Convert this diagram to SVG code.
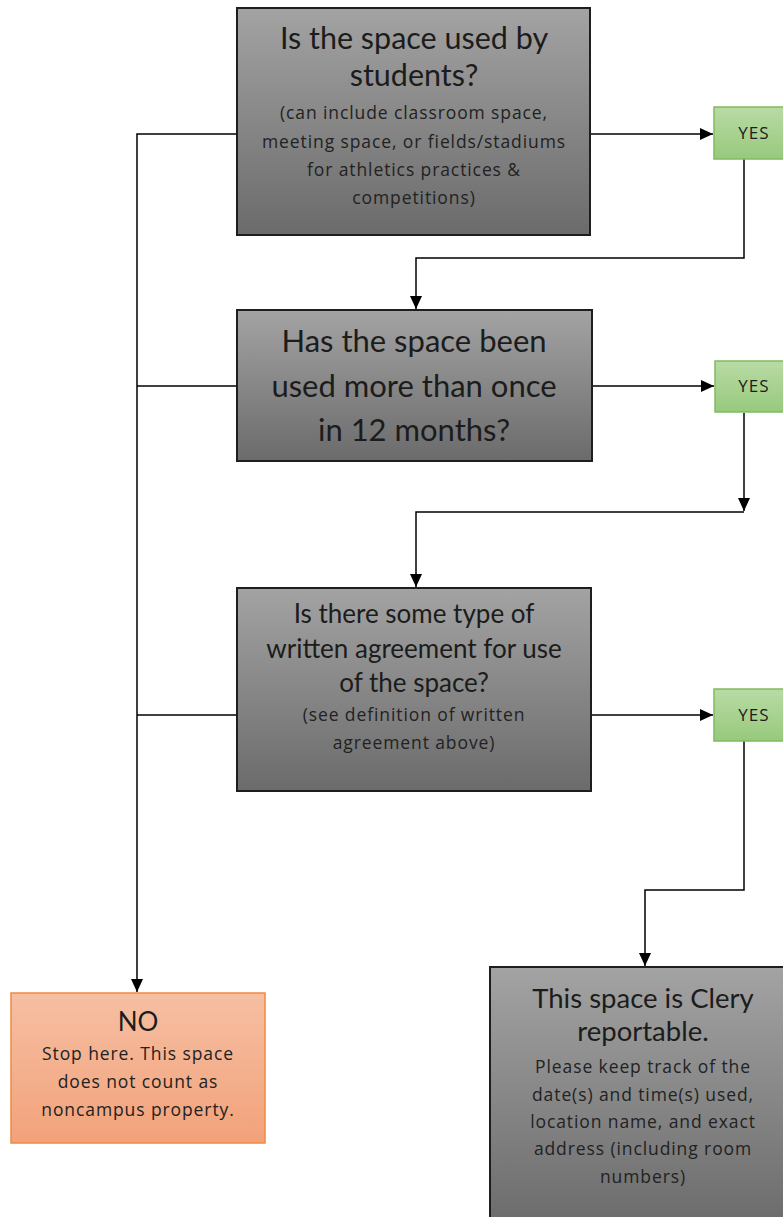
<svg xmlns="http://www.w3.org/2000/svg" width="783" height="1217" viewBox="0 0 783 1217">
<defs>
<linearGradient id="gGray" x1="0" y1="0" x2="0" y2="1">
<stop offset="0" stop-color="#a3a3a3"/>
<stop offset="1" stop-color="#6b6b6b"/>
</linearGradient>
<linearGradient id="gGreen" x1="0" y1="0" x2="0" y2="1">
<stop offset="0" stop-color="#b9dba5"/>
<stop offset="1" stop-color="#97c97c"/>
</linearGradient>
<linearGradient id="gOrange" x1="0" y1="0" x2="0" y2="1">
<stop offset="0" stop-color="#f6bfa3"/>
<stop offset="1" stop-color="#f2a27a"/>
</linearGradient>
<marker id="arr" viewBox="0 0 13 12" refX="13" refY="6" markerWidth="13" markerHeight="12" markerUnits="userSpaceOnUse" orient="auto">
<path d="M0,0 L13,6 L0,12 z" fill="#000"/>
</marker>
</defs>
<style>
.q{fill:url(#gGray);stroke:#1e1e1e;stroke-width:2}
.y{fill:url(#gGreen);stroke:#80bb60;stroke-width:1.5}
.n{fill:url(#gOrange);stroke:#f08a40;stroke-width:1.5}
text{font-family:Lato,"Liberation Sans",sans-serif;text-anchor:middle;fill:#1c1c1c}
.t1{font-size:30.5px}
.t2{font-size:31px}
.t3{font-size:26px}
.t4{font-size:27.5px}
.tn{font-size:26px}
.s{font-family:"Open Sans","Liberation Sans",sans-serif;font-size:17.5px;letter-spacing:0.9px;fill:#222}
.ys{font-family:"Open Sans","Liberation Sans",sans-serif;font-size:17px;letter-spacing:1px}
.c{fill:none;stroke:#000;stroke-width:1.5}
</style>
<g id="connectors">
<path class="c" d="M590,134 H713" marker-end="url(#arr)"/>
<path class="c" d="M744,159 V258 H416 V309" marker-end="url(#arr)"/>
<path class="c" d="M592,386 H714" marker-end="url(#arr)"/>
<path class="c" d="M744,413 V511" marker-end="url(#arr)"/>
<path class="c" d="M744,512 H416 V587" marker-end="url(#arr)"/>
<path class="c" d="M591,715 H713" marker-end="url(#arr)"/>
<path class="c" d="M744,741 V890 H645 V966" marker-end="url(#arr)"/>
<path class="c" d="M237,134 H137 V992" marker-end="url(#arr)"/>
<path class="c" d="M237,386 H137"/>
<path class="c" d="M237,715 H137"/>
</g>
<g id="q1">
<rect class="q" x="237" y="8" width="353" height="227"/>
<text class="t1" x="414" y="49">Is the space used by</text>
<text class="t1" x="414" y="86">students?</text>
<text class="s" x="414" y="119">(can include classroom space,</text>
<text class="s" x="414" y="148">meeting space, or fields/stadiums</text>
<text class="s" x="414" y="176">for athletics practices &amp;</text>
<text class="s" x="414" y="204">competitions)</text>
</g>
<g id="yes1">
<rect class="y" x="714" y="107" width="76" height="52"/>
<text class="ys" x="754" y="139">YES</text>
</g>
<g id="q2">
<rect class="q" x="237" y="310" width="355" height="151"/>
<text class="t2" x="414" y="352">Has the space been</text>
<text class="t2" x="414" y="397">used more than once</text>
<text class="t2" x="414" y="441">in 12 months?</text>
</g>
<g id="yes2">
<rect class="y" x="715" y="361" width="75" height="51"/>
<text class="ys" x="754" y="392">YES</text>
</g>
<g id="q3">
<rect class="q" x="237" y="588" width="354" height="203"/>
<text class="t3" x="414" y="623">Is there some type of</text>
<text class="t3" x="414" y="658">written agreement for use</text>
<text class="t3" x="414" y="692">of the space?</text>
<text class="s" x="414" y="721">(see definition of written</text>
<text class="s" x="414" y="749">agreement above)</text>
</g>
<g id="yes3">
<rect class="y" x="714" y="689" width="76" height="52"/>
<text class="ys" x="754" y="721">YES</text>
</g>
<g id="clery">
<rect class="q" x="490" y="967" width="306" height="260"/>
<text class="t4" x="643" y="1008">This space is Clery</text>
<text class="t4" x="643" y="1041">reportable.</text>
<text class="s" x="643" y="1073">Please keep track of the</text>
<text class="s" x="643" y="1101">date(s) and time(s) used,</text>
<text class="s" x="643" y="1128">location name, and exact</text>
<text class="s" x="643" y="1155">address (including room</text>
<text class="s" x="643" y="1183">numbers)</text>
</g>
<g id="no">
<rect class="n" x="11" y="993" width="254" height="150"/>
<text class="tn" x="138" y="1031">NO</text>
<text class="s" x="138" y="1060">Stop here. This space</text>
<text class="s" x="138" y="1088">does not count as</text>
<text class="s" x="138" y="1116">noncampus property.</text>
</g>
</svg>
